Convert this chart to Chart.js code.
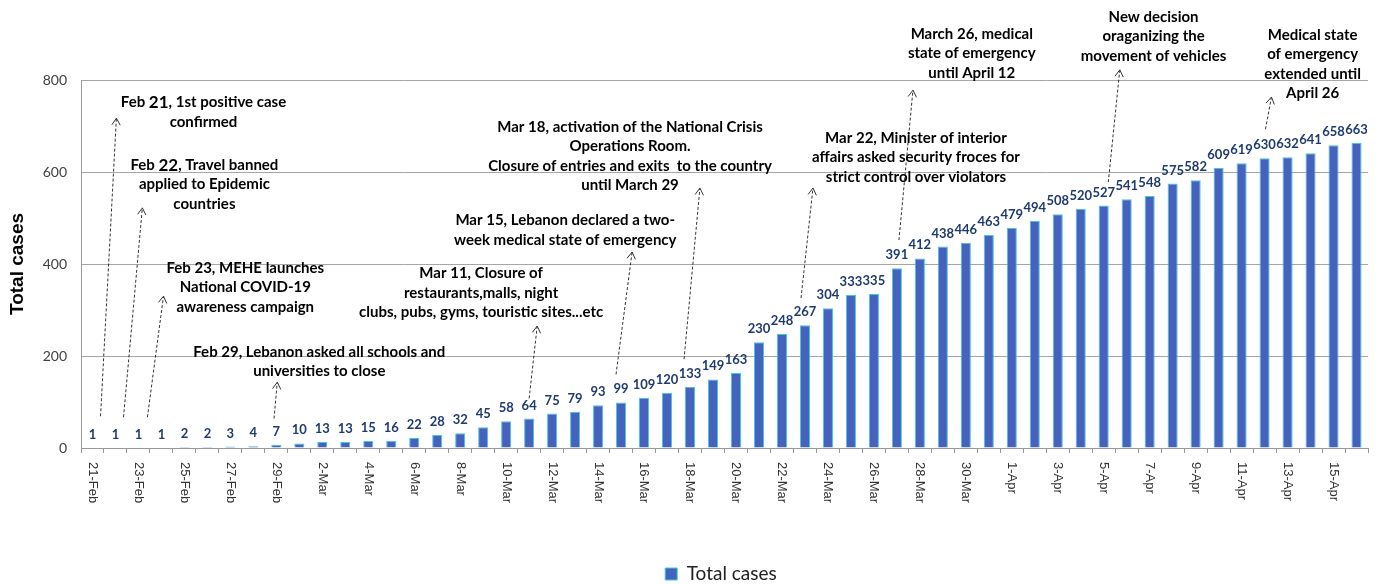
<!DOCTYPE html>
<html>
<head>
<meta charset="utf-8">
<script src="https://cdn.jsdelivr.net/npm/chart.js@4.4.1/dist/chart.umd.min.js"></script>
<style>
  html, body { margin: 0; padding: 0; background: #fff; }
  #wrap { width: 1382px; height: 584px; position: relative; }
</style>
</head>
<body>
<div id="wrap"><canvas id="casesChart"></canvas></div>
<script>
// --- DATA ---
const dates = [
  '21-Feb','22-Feb','23-Feb','24-Feb','25-Feb','26-Feb','27-Feb','28-Feb','29-Feb',
  '1-Mar','2-Mar','3-Mar','4-Mar','5-Mar','6-Mar','7-Mar','8-Mar','9-Mar','10-Mar',
  '11-Mar','12-Mar','13-Mar','14-Mar','15-Mar','16-Mar','17-Mar','18-Mar','19-Mar','20-Mar',
  '21-Mar','22-Mar','23-Mar','24-Mar','25-Mar','26-Mar','27-Mar','28-Mar','29-Mar','30-Mar','31-Mar',
  '1-Apr','2-Apr','3-Apr','4-Apr','5-Apr','6-Apr','7-Apr','8-Apr','9-Apr','10-Apr',
  '11-Apr','12-Apr','13-Apr','14-Apr','15-Apr','16-Apr'
];
const totalCases = [
  1, 1, 1, 1, 2, 2, 3, 4, 7,
  10, 13, 13, 15, 16, 22, 28, 32, 45, 58,
  64, 75, 79, 93, 99, 109, 120, 133, 149, 163,
  230, 248, 267, 304, 333, 335, 391, 412, 438, 446, 463,
  479, 494, 508, 520, 527, 541, 548, 575, 582, 609,
  619, 630, 632, 641, 658, 663
];
// every second date is written under the axis
const tickLabels = dates.map((d, i) => (i % 2 === 0 ? d : ''));
const yTicks = [0, 200, 400, 600, 800];

// events: text centre [category index, value], arrow from -> to in [index, value]
// {..} marks a part written a little bigger
const notes = [
  { lines: ['Feb {21}, 1st positive case', 'confirmed'], at: [4.83, 751], from: [0.35, 69], to: [1.04, 717] },
  { lines: ['Feb {22}, Travel banned', 'applied to Epidemic', 'countries'], at: [4.87, 615], from: [1.35, 67], to: [2.17, 522] },
  { lines: ['Feb 23, MEHE launches', 'National COVID-19', 'awareness campaign'], at: [6.65, 391], from: [2.39, 67], to: [3.09, 330] },
  { lines: ['Feb 29, Lebanon asked all schools and', 'universities to close'], at: [9.87, 209], from: [7.9, 64], to: [8.04, 143] },
  { lines: ['Mar 11, Closure of', 'restaurants,malls, night', 'clubs, pubs, gyms, touristic sites...etc'], at: [16.91, 380], from: [19.0, 108], to: [19.35, 265] },
  { lines: ['Mar 15, Lebanon declared a two-', 'week medical state of emergency'], at: [20.57, 495], from: [22.78, 160], to: [23.48, 426] },
  { lines: ['Mar 18, activation of the National Crisis', 'Operations Room.', 'Closure of entries and exits  to the country', 'until March 29'], at: [23.39, 698], from: [25.74, 193], to: [26.43, 565] },
  { lines: ['Mar 22, Minister of interior', 'affairs asked security froces for', 'strict control over violators'], at: [35.83, 674], from: [30.83, 326], to: [31.35, 565] },
  { lines: ['March 26, medical', 'state of emergency', 'until April 12'], at: [38.26, 900], from: [35.09, 452], to: [35.7, 778] },
  { lines: ['New decision', 'oraganizing the', 'movement of vehicles'], at: [46.17, 937], from: [44.2, 578], to: [44.7, 822] },
  { lines: ['Medical state', 'of emergency', 'extended until', 'April 26'], at: [53.09, 898], from: [51.04, 693], to: [51.3, 763] }
];

// --- PLUGINS ---
function xAt(scale, idx) {
  const a = scale.getPixelForValue(0), b = scale.getPixelForValue(1);
  return a + idx * (b - a);
}

const barLabels = {
  id: 'barLabels',
  afterDatasetsDraw(chart) {
    const ctx = chart.ctx;
    const meta = chart.getDatasetMeta(0);
    ctx.save();
    ctx.font = 'bold 13px Lato';
    ctx.fillStyle = '#1f3a6e';
    ctx.textAlign = 'center';
    ctx.textBaseline = 'alphabetic';
    meta.data.forEach((bar, i) => {
      ctx.fillText(String(totalCases[i]), bar.x, bar.y - 9);
    });
    ctx.restore();
  }
};

const dateLabels = {
  id: 'dateLabels',
  afterDraw(chart) {
    const ctx = chart.ctx;
    const xs = chart.scales.x;
    ctx.save();
    ctx.font = '13px "Liberation Sans"';
    ctx.fillStyle = '#333';
    ctx.textAlign = 'left';
    ctx.textBaseline = 'middle';
    tickLabels.forEach((t, i) => {
      if (!t) return;
      ctx.save();
      ctx.translate(xs.getPixelForValue(i), xs.top + 14);
      ctx.rotate(Math.PI / 2);
      ctx.fillText(t, 0, 0);
      ctx.restore();
    });
    ctx.restore();
  }
};

const NOTE_FONT = 'bold 15px Lato';
const NOTE_BIG = 'bold 17px Lato';

function drawRichLine(ctx, line, cx, cy) {
  const parts = line.split(/(\{[^}]*\})/).filter(p => p).map(p =>
    p[0] === '{' ? { t: p.slice(1, -1), f: NOTE_BIG } : { t: p, f: NOTE_FONT });
  let w = 0;
  parts.forEach(p => { ctx.font = p.f; p.w = ctx.measureText(p.t).width; w += p.w; });
  let x = cx - w / 2;
  ctx.textAlign = 'left';
  parts.forEach(p => { ctx.font = p.f; ctx.fillText(p.t, x, cy); x += p.w; });
}

const events = {
  id: 'events',
  afterDraw(chart) {
    const ctx = chart.ctx;
    const xs = chart.scales.x, ys = chart.scales.y;
    ctx.save();
    // arrows
    notes.forEach(n => {
      const x1 = xAt(xs, n.from[0]), y1 = ys.getPixelForValue(n.from[1]);
      const x2 = xAt(xs, n.to[0]), y2 = ys.getPixelForValue(n.to[1]);
      ctx.strokeStyle = '#333';
      ctx.lineWidth = 1;
      ctx.setLineDash([3, 2]);
      ctx.beginPath();
      ctx.moveTo(x1, y1);
      ctx.lineTo(x2, y2);
      ctx.stroke();
      ctx.setLineDash([]);
      const ang = Math.atan2(y2 - y1, x2 - x1);
      const h = 8;
      ctx.beginPath();
      ctx.moveTo(x2 - h * Math.cos(ang - 0.55), y2 - h * Math.sin(ang - 0.55));
      ctx.lineTo(x2, y2);
      ctx.lineTo(x2 - h * Math.cos(ang + 0.55), y2 - h * Math.sin(ang + 0.55));
      ctx.stroke();
    });
    // texts
    ctx.fillStyle = '#000';
    ctx.textBaseline = 'middle';
    notes.forEach(n => {
      const cx = xAt(xs, n.at[0]);
      const cy = ys.getPixelForValue(n.at[1]);
      n.lines.forEach((l, k) => drawRichLine(ctx, l, cx, cy + k * 19.5));
    });
    ctx.restore();
  }
};

// legend sits a bit right of centre in the original
const legendShift = {
  id: 'legendShift',
  afterLayout(chart) {
    chart.legend.left += 37;
    chart.legend.right += 37;
  }
};

// --- CHART ---
const ctx = document.getElementById('casesChart').getContext('2d');
const chart = new Chart(ctx, {
  type: 'bar',
  data: {
    labels: dates,
    datasets: [{
      label: 'Total cases',
      data: totalCases,
      backgroundColor: '#4562bf',
      borderColor: '#3fc9da',
      borderWidth: 1,
      barPercentage: 0.44,
      categoryPercentage: 1
    }]
  },
  options: {
    responsive: true,
    maintainAspectRatio: false,
    animation: false,
    layout: { padding: { top: 80, right: 14, bottom: -9.5, left: 0 } },
    plugins: {
      legend: {
        position: 'bottom',
        labels: {
          font: { family: 'Lato', size: 19 },
          color: '#222',
          boxWidth: 12,
          boxHeight: 12,
          padding: 6
        }
      },
      tooltip: { enabled: false }
    },
    scales: {
      x: {
        grid: { drawOnChartArea: false, drawTicks: true, tickLength: 5, color: '#999' },
        border: { color: '#999' },
        ticks: { display: false },
        afterFit(s) { s.height = 110.5; }
      },
      y: {
        min: 0,
        max: 800,
        afterBuildTicks(s) { s.ticks = yTicks.map(v => ({ value: v })); },
        grid: { color: '#a6a6a6', drawTicks: false },
        border: { color: '#999' },
        ticks: { font: { family: 'Lato', size: 14 }, color: '#404040', padding: 14 },
        title: {
          display: true,
          text: 'Total cases',
          font: { family: '"Liberation Sans"', size: 19, weight: 'bold' },
          color: '#000',
          padding: { top: 6, bottom: 0 }
        },
        afterFit(s) { s.width = 81; }
      }
    }
  },
  plugins: [barLabels, dateLabels, events, legendShift]
});
</script>
</body>
</html>
